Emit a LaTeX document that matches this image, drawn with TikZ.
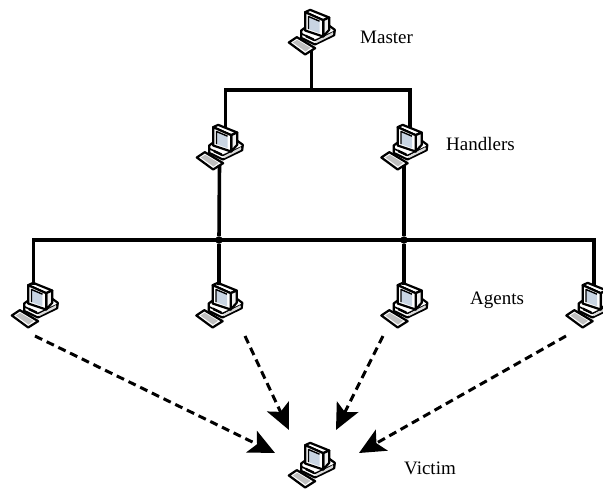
\documentclass[tikz,border=0pt]{standalone}
\usepackage{fontspec}
\setmainfont{Liberation Serif}
\usetikzlibrary{arrows.meta}

\definecolor{screenblue}{RGB}{200,212,226}

\newcommand{\pcicon}{%
  \begin{tikzpicture}[x=0.3333pt,y=0.3333pt,line width=2.2pt,line join=round]
    \useasboundingbox (-69,-67) rectangle (69,67);
    % keyboard
    \draw [fill=white] (-68,-30) -- (-44,-14) -- (11,-47) -- (-19,-66) -- cycle;
    \fill [black!25] (-56,-30) -- (-43,-22) -- (-3,-46) -- (-18,-57) -- cycle;
    % base
    \draw [fill=white] (-31,6) -- (-20,14) -- (51,22) -- (70,8) -- (68,-8) -- (10,-36) -- (-31,-16) -- cycle;
    \draw [line width=1.6pt] (-31,-3) -- (10,-24) -- (69,3);
    \fill [black] (-18,-6) -- (8,-18) -- (8,-26) -- (-18,-14) -- cycle;
    \fill [black!15] (14,-25) -- (14,-32) -- (64,-7) -- (64,1) -- cycle;
    % monitor
    \draw [fill=white] (-19,61) -- (-4,68) -- (53,45) -- (35,37) -- cycle;
    \draw [fill=black!6] (35,37) -- (53,45) -- (53,8) -- (35,-12) -- cycle;
    \draw [fill=white] (-19,61) -- (35,37) -- (35,-12) -- (-19,6) -- cycle;
    \fill [screenblue] (-9,48) -- (24,34) -- (24,-2) -- (-9,10) -- cycle;
    \draw [line width=1.4pt] (-9,10) -- (-9,48) -- (24,34);
  \end{tikzpicture}}

\begin{document}
\begin{tikzpicture}[x=1pt,y=-1pt,>=Stealth]
    \tikzstyle{computer} = [inner sep=0pt, outer sep=0pt]
    \tikzstyle{wire} = [draw, line width=3.6pt]
    \tikzstyle{attack} = [draw, line width=3pt, dash pattern=on 8pt off 5pt,
        -{Stealth[length=26pt,width=24pt,inset=6pt,sep=0pt]}]
    \tikzstyle{junction} = [circle, fill=black, inner sep=0pt, minimum size=7.5pt]
    \tikzstyle{caption} = [anchor=base west, inner sep=0pt, font=\fontsize{19}{21}\selectfont]

    \useasboundingbox (0,0) rectangle (603,488);

    \node [computer] (master) at (311.5,32.5) {\pcicon};
    \node [computer] (handlera) at (219.5,147.5) {\pcicon};
    \node [computer] (handlerb) at (404,147.5) {\pcicon};
    \node [computer] (agenta) at (34.5,305.5) {\pcicon};
    \node [computer] (agentb) at (219,305.5) {\pcicon};
    \node [computer] (agentc) at (404,305.5) {\pcicon};
    \node [computer] (agentd) at (589,305.5) {\pcicon};
    \node [computer] (victim) at (311.5,465.5) {\pcicon};

    \node [caption] (mastertext) at (360,43) {Master};
    \node [caption] (handlertext) at (446,150) {Handlers};
    \node [caption] (agenttext) at (470,304) {Agents};
    \node [caption] (victimtext) at (404,474) {Victim};

    \coordinate (masterjoin) at (311.5,90);
    \coordinate (agentjoin) at (311.5,240);
    \node [junction] (joina) at (219,240) {};
    \node [junction] (joinb) at (404,240) {};

    \coordinate (taila) at (35,336);
    \coordinate (tailb) at (245,336);
    \coordinate (tailc) at (383,336);
    \coordinate (taild) at (566,336);
    \coordinate (heada) at (275,453);
    \coordinate (headb) at (289,430);
    \coordinate (headc) at (336,430);
    \coordinate (headd) at (359,453);

    \path [wire] ([yshift=5pt]master.south) -- (masterjoin);
    \path [wire] ([shift={(6pt,-3pt)}]handlera.north) |- (masterjoin) -| ([shift={(6pt,-3pt)}]handlerb.north);
    \path [wire] ([shift={(-1pt,-2pt)}]agenta.north) |- (agentjoin) -| ([shift={(5pt,-3pt)}]agentd.north);
    \path [wire] ([yshift=5pt]handlera.south) -- (joina) -- ([yshift=-2pt]agentb.north);
    \path [wire] ([yshift=5pt]handlerb.south) -- (joinb) -- ([yshift=-2pt]agentc.north);

    \path [attack] (taila) -- (heada);
    \path [attack] (tailb) -- (headb);
    \path [attack] (tailc) -- (headc);
    \path [attack] (taild) -- (headd);
\end{tikzpicture}
\end{document}
